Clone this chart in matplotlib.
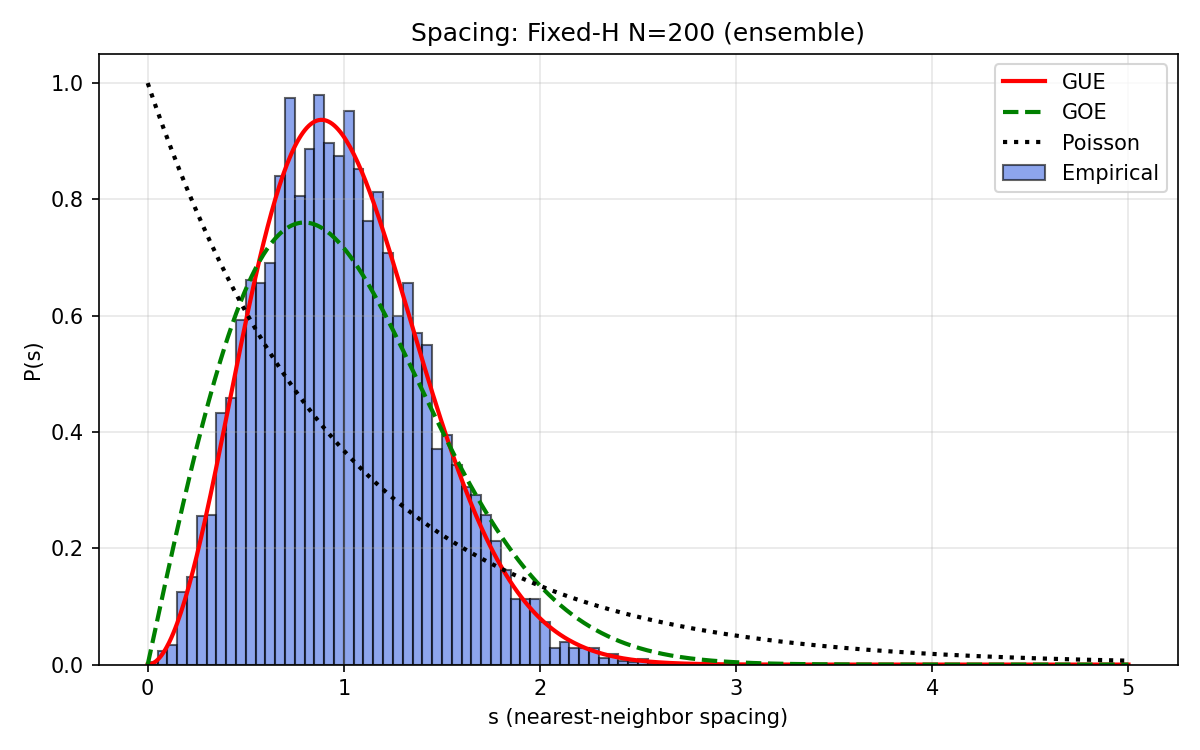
import numpy as np
import matplotlib
matplotlib.use("Agg")
import matplotlib.pyplot as plt

# empirical nearest-neighbour spacing histogram (bin width 0.05, starting at 0)
bin_width = 0.05
heights = [
    0.004, 0.023, 0.034, 0.124, 0.151, 0.255, 0.258, 0.432, 0.459, 0.593,
    0.661, 0.656, 0.690, 0.841, 0.975, 0.806, 0.886, 0.980, 0.897, 0.874,
    0.952, 0.852, 0.762, 0.813, 0.707, 0.600, 0.656, 0.571, 0.550, 0.370,
    0.394, 0.343, 0.305, 0.292, 0.258, 0.213, 0.163, 0.112, 0.112, 0.112,
    0.073, 0.028, 0.038, 0.028, 0.028, 0.028, 0.011, 0.018, 0.006, 0.005,
    0.010, 0.003, 0.002, 0.001,
]
edges = np.arange(len(heights)) * bin_width

# theory curves (Wigner surmise + Poisson)
s = np.linspace(0, 5, 500)
p_gue = 32 / np.pi**2 * s**2 * np.exp(-4 * s**2 / np.pi)
p_goe = np.pi / 2 * s * np.exp(-np.pi * s**2 / 4)
p_poi = np.exp(-s)

fig, ax = plt.subplots(figsize=(8, 5), dpi=150)

bars = ax.bar(edges, heights, width=bin_width, align='edge',
              color='royalblue', alpha=0.6, edgecolor='black', linewidth=1,
              label='Empirical')
l1, = ax.plot(s, p_gue, 'r-', lw=2, label='GUE')
l2, = ax.plot(s, p_goe, 'g--', lw=2, label='GOE')
l3, = ax.plot(s, p_poi, 'k:', lw=2, label='Poisson')

ax.set_ylim(bottom=0)
ax.set_xlabel('s (nearest-neighbor spacing)')
ax.set_ylabel('P(s)')
ax.set_title('Spacing: Fixed-H N=200 (ensemble)')
ax.grid(True, alpha=0.3)
ax.legend(handles=[l1, l2, l3, bars], loc='upper right')

plt.tight_layout()
plt.savefig('out.png')
